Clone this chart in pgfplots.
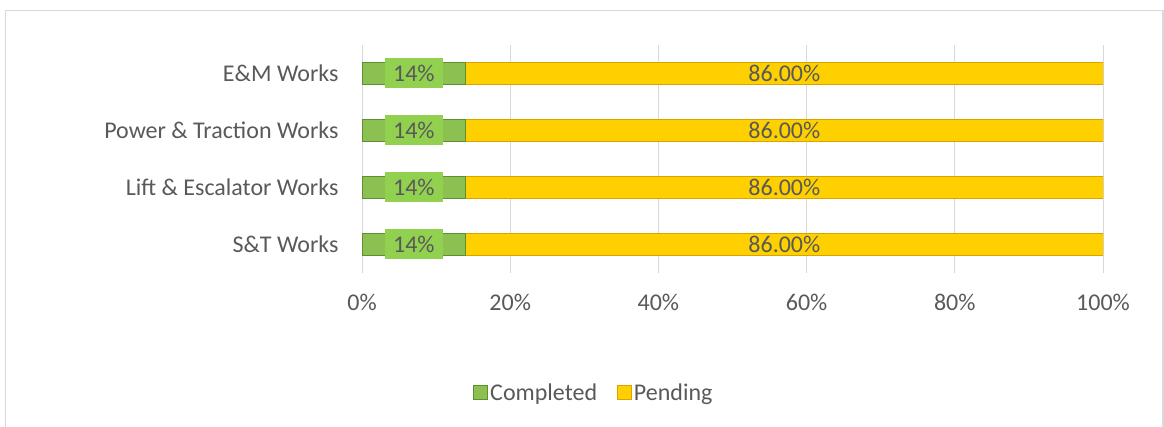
\documentclass[border=0pt]{standalone}
\usepackage{pgfplots}
\pgfplotsset{compat=1.18}
\usepackage{fontspec}
\setmainfont{Carlito}

\definecolor{txt}{HTML}{595959}
\definecolor{gridc}{HTML}{D9D9D9}
\definecolor{gmid}{HTML}{8CC152}
\definecolor{gedge}{HTML}{5E8F33}
\definecolor{ymid}{HTML}{FFD000}
\definecolor{yedge}{HTML}{D9A300}
\definecolor{lblgreen}{HTML}{92D050}

\pgfplotsset{
  base/.style={
    at={(362pt,-272.5pt)}, anchor=south west,
    scale only axis, width=741pt, height=228pt,
    xmin=0, xmax=100, ymin=-0.5, ymax=3.5,
  },
}

\begin{document}
\begin{tikzpicture}
\path[use as bounding box] (0pt,0pt) rectangle (1164pt,-427pt);
\draw[gridc, line width=1.5pt] (5.5pt,-427pt) -- (5.5pt,-10.5pt) -- (1163pt,-10.5pt) -- (1163pt,-427pt);

\begin{axis}[base,
  xbar stacked, bar width=22pt,
  axis line style={draw=none}, tick style={draw=none},
  xmajorgrids, grid style={gridc, line width=1pt},
  ytick={0,1,2,3},
  yticklabels={S\&T Works, Lift \& Escalator Works, Power \& Traction Works, E\&M Works},
  xtick={0,20,...,100},
  xticklabel={\pgfmathprintnumber{\tick}\%},
  /pgf/number format/assume math mode=true,
  tick label style={font=\fontsize{24}{28}\selectfont, text=txt},
  yticklabel style={xshift=-20pt},
  xticklabel style={yshift=-18pt},
  legend style={at={(0.313,-0.528)}, anchor=center, draw=none, fill=none,
    legend columns=2, font=\fontsize{24}{28}\selectfont, text=txt,
    /tikz/every even column/.append style={column sep=18pt}},
  legend image code/.code={\draw[#1] (0pt,-7pt) rectangle (14pt,7pt);},
]
\addplot[draw=gedge, fill=gmid, line width=0.8pt]
  coordinates {(14,0) (14,1) (14,2) (14,3)};
\addlegendentry{Completed}
\addplot[draw=yedge, fill=ymid, line width=0.8pt]
  coordinates {(86,0) (86,1) (86,2) (86,3)};
\addlegendentry{Pending}
\end{axis}

\begin{axis}[base, hide axis, /pgf/number format/assume math mode=true]
\addplot[draw=none, mark=none, point meta=explicit,
  nodes near coords={\pgfmathprintnumber{\pgfplotspointmeta}\%},
  every node near coord/.append style={anchor=center, fill=lblgreen, text=txt,
    minimum width=58pt, minimum height=30pt, inner sep=0pt,
    font=\fontsize{24}{28}\selectfont}]
  coordinates {(7,0) [14] (7,1) [14] (7,2) [14] (7,3) [14]};
\addplot[draw=none, mark=none, point meta=explicit,
  nodes near coords={\pgfmathprintnumber[fixed, fixed zerofill, precision=2]{\pgfplotspointmeta}\%},
  every node near coord/.append style={anchor=center, text=txt,
    font=\fontsize{24}{28}\selectfont}]
  coordinates {(57,0) [86] (57,1) [86] (57,2) [86] (57,3) [86]};
\end{axis}
\end{tikzpicture}
\end{document}
